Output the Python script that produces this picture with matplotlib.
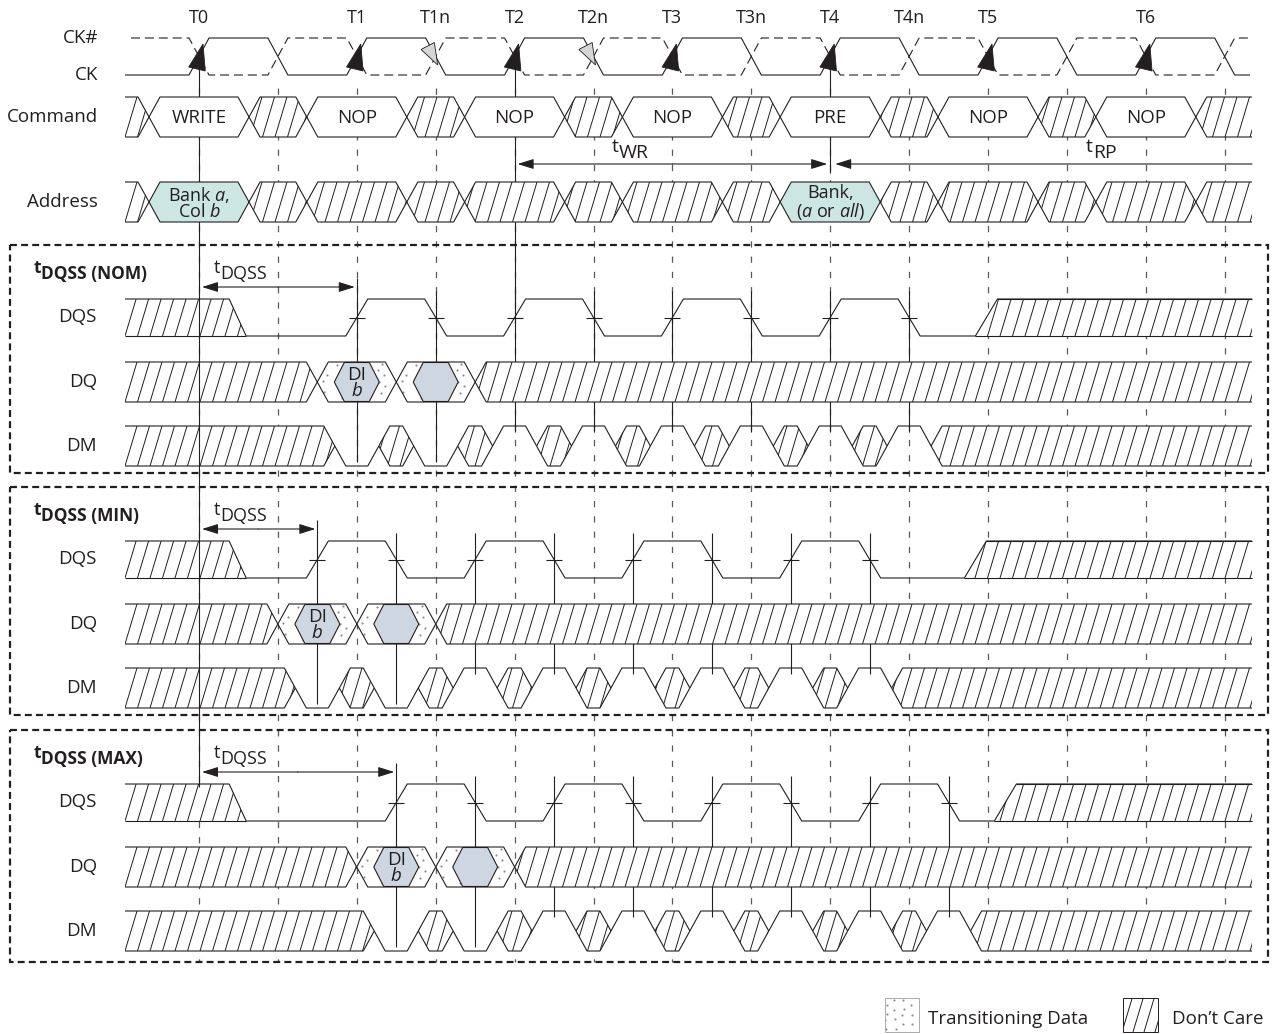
# coding: utf-8
import matplotlib.pyplot as plt
import numpy as np
from matplotlib.patches import Polygon, Rectangle
from matplotlib.collections import LineCollection

plt.rcParams['font.family'] = ['Open Sans', 'DejaVu Sans']
plt.rcParams['mathtext.fontset'] = 'custom'
plt.rcParams['mathtext.rm'] = 'Open Sans'
plt.rcParams['mathtext.it'] = 'Open Sans:italic'
plt.rcParams['mathtext.bf'] = 'Open Sans:bold'
plt.rcParams['lines.scale_dashes'] = False

# ---- diagram data (times in tCK, T0 = 0) ----
clock_names = ["T0", "T1", "T1n", "T2", "T2n", "T3", "T3n", "T4", "T4n", "T5", "T6"]
clock_times = [0, 1, 1.5, 2, 2.5, 3, 3.5, 4, 4.5, 5, 6]
black_arrows = [0, 1, 2, 3, 4, 5, 6]
gray_arrows = [1.5, 2.5]

commands = ["WRITE", "NOP", "NOP", "NOP", "PRE", "NOP", "NOP"]
addresses = ["Bank $a$,\nCol $b$", None, None, None, "Bank,\n($a$ or $all$)", None, None]

sections = ["NOM", "MIN", "MAX"]
dqss_shift = [0.0, -0.25, 0.25]
dqs_edges = [1, 1.5, 2, 2.5, 3, 3.5, 4, 4.5]
dm_levels = ["L", "L", "H", "H", "H", "H", "H", "H"]
dq_data = ["DI\n$b$", ""]
dqs_pre_end = 0.245
dqs_post_start = [4.99, 4.92, 5.11]
twr_span = [2, 4]
trp_start = 4

# ---- layout ----
W, H = 1274, 1034
X0, TCK = 199.0, 157.8
PX = 1.0 / TCK
INK = "#231f20"
GRID = "#58595b"
TEAL = "#cce6e4"
BLUE = "#cdd6e1"
DOT = "#8a8c8f"
FS = 13.5

fig = plt.figure(figsize=(W / 100, H / 100), dpi=100)
ax = fig.add_axes([0, 0, 1, 1])
ax.set_xlim(-X0 * PX, (W - X0) * PX)
ax.set_ylim(H, 0)
ax.axis("off")


def t_px(px):
    return (px - X0) * PX


LEFT = t_px(125)
RIGHT = t_px(1252)
LW = 0.8


def line(xs, ys, z=4, **kw):
    kw.setdefault("color", INK)
    kw.setdefault("lw", LW)
    ax.plot(xs, ys, zorder=z, solid_joinstyle="miter", solid_capstyle="butt", **kw)


def hatch_fill(verts, z=3, spacing=12.5, slope=0.3):
    poly = Polygon(verts, closed=True, facecolor="white", edgecolor="none", zorder=z)
    ax.add_patch(poly)
    xs = [X0 + v[0] * TCK for v in verts]
    ys = [v[1] for v in verts]
    ytop, ybot = min(ys), max(ys)
    h = ybot - ytop
    segs = []
    for k in range(int(min(xs) // spacing) - 6, int(max(xs) // spacing) + 2):
        xa = k * spacing
        segs.append([(t_px(xa), ybot), (t_px(xa + slope * h), ytop)])
    lc = LineCollection(segs, colors=INK, linewidths=0.7, zorder=z + 0.1)
    lc.set_clip_path(poly)
    ax.add_collection(lc)


def dot_fill(verts, z=3, color="white", step=11.0):
    poly = Polygon(verts, closed=True, facecolor=color, edgecolor="none", zorder=z)
    ax.add_patch(poly)
    xs = [X0 + v[0] * TCK for v in verts]
    ys = [v[1] for v in verts]
    x0, x1, y0, y1 = min(xs), max(xs), min(ys), max(ys)
    n = int((x1 - x0) * (y1 - y0) / step ** 2) + 1
    g = 1.32471795724474602596
    i = np.arange(n)
    u = (0.5 + i / g) % 1
    v = (0.5 + i / g ** 2) % 1
    sc = ax.scatter(t_px(x0 + u * (x1 - x0)), y0 + v * (y1 - y0), s=2.4,
                    color=DOT, linewidths=0, zorder=z + 0.1)
    sc.set_clip_path(poly)


def bus_seg(xa, xb, y0, y1, kind, w=11 * PX, open_l=False, open_r=False,
            label=None, z=3, fs=FS):
    ym = (y0 + y1) / 2
    if open_l:
        lt, lb = [(xa, y0)], [(xa, y1)]
    else:
        lt, lb = [(xa, ym), (xa + w, y0)], [(xa, ym), (xa + w, y1)]
    if open_r:
        rt, rb = [(xb, y0)], [(xb, y1)]
    else:
        rt, rb = [(xb - w, y0), (xb, ym)], [(xb - w, y1), (xb, ym)]
    top, bot = lt + rt, lb + rb
    verts = top + bot[::-1]
    if kind == "X":
        hatch_fill(verts, z)
    elif kind == "T":
        dot_fill(verts, z)
    else:
        fc = {"V": "white", "A": TEAL, "D": BLUE}[kind]
        ax.add_patch(Polygon(verts, closed=True, facecolor=fc, edgecolor="none", zorder=z))
    line([p[0] for p in top], [p[1] for p in top], z + 0.2)
    line([p[0] for p in bot], [p[1] for p in bot], z + 0.2)
    if label:
        ax.text((xa + xb) / 2, ym + 1, label, ha="center", va="center",
                fontsize=fs, color=INK, zorder=z + 0.3, linespacing=0.9)


def sub_text(x, y, main, sub, fs=13, weight="normal", dx=6.5):
    ax.text(x, y - 6, main, fontsize=fs, weight=weight, color=INK, va="baseline", zorder=10)
    ax.text(x + dx * PX, y, sub, fontsize=fs, weight=weight, color=INK, va="baseline", zorder=10)


def tri(tip, base, half, fc, z=6):
    d = np.array(tip) - np.array(base)
    d = d / np.hypot(*d)
    n = np.array([-d[1], d[0]])
    b1 = np.array(base) + half * n
    b2 = np.array(base) - half * n
    pts = [tip, tuple(b1), tuple(b2)]
    ax.add_patch(Polygon([(t_px(p[0]), p[1]) for p in pts], closed=True,
                         facecolor=fc, edgecolor=INK, lw=0.6, zorder=z))


# ---- grid of dashed lines at every half clock ----
for t in np.arange(0, 6.51, 0.5):
    ax.plot([t, t], [88, 962], color=GRID, lw=0.9, ls=(0, (4.5, 6.5)), zorder=1)

# ---- clock ----
CK_HI, CK_LO = 38, 75
w = 10 * PX
ck_x, ck_y = [LEFT], [CK_LO]
nck_x, nck_y = [t_px(131)], [CK_HI]
for t in np.arange(0, 6.51, 0.5):
    rising = (t % 1) == 0
    a, b = (CK_LO, CK_HI) if rising else (CK_HI, CK_LO)
    ck_x += [t - w, t + w]
    ck_y += [a, b]
    nck_x += [t - w, t + w]
    nck_y += [b, a]
ck_x.append(t_px(1250))
ck_y.append(ck_y[-1])
nck_x.append(t_px(1250))
nck_y.append(nck_y[-1])
line(ck_x, ck_y, 4)
ax.plot(nck_x, nck_y, color=INK, lw=LW, ls=(0, (6.5, 3.5)), zorder=4)

for t in black_arrows:
    x = X0 + t * TCK
    tri((x + 4, 44), (x - 2, 69), 8.5, INK)
for t in gray_arrows:
    x = X0 + t * TCK
    tri((x + 2, 65), (x - 8, 46), 7.5, "#d4d5d6")

# long clock lines from T0, T2, T4
line([0, 0], [68, 245], 1)
line([0, 0], [245, 787], 12)
line([2, 2], [68, 300], 1)
line([4, 4], [68, 173], 1)

for name, t in zip(clock_names, clock_times):
    ax.text(t, 18, name, ha="center", va="center", fontsize=13, color=INK)

LBL_X = t_px(98)
for name, y in [("CK#", 38), ("CK", 75), ("Command", 117), ("Address", 202)]:
    ax.text(LBL_X, y, name, ha="right", va="center", fontsize=FS, color=INK)

# ---- command and address buses ----
HALF = 50 * PX
for row, (y0, y1) in enumerate([(97, 137), (182, 222)]):
    cr = []
    for t in range(len(commands)):
        cr += [t - HALF, t + HALF]
    bus_seg(LEFT, cr[0], y0, y1, "X", open_l=True)
    for t in range(len(commands)):
        a, b = cr[2 * t], cr[2 * t + 1]
        if row == 0:
            bus_seg(a, b, y0, y1, "V", label=commands[t])
        else:
            lab = addresses[t]
            bus_seg(a, b, y0, y1, "A" if lab else "X", label=lab, fs=13)
        nxt = cr[2 * t + 2] if t + 1 < len(commands) else RIGHT
        bus_seg(b, nxt, y0, y1, "X", open_r=(t + 1 == len(commands)))

# ---- tWR / tRP ----
ARW = dict(arrowstyle="-|>,head_length=0.7,head_width=0.22", mutation_scale=14,
           color=INK, lw=LW, shrinkA=0, shrinkB=0)
ax.annotate("", xy=(twr_span[0] + 3 * PX, 164), xytext=(np.mean(twr_span), 164), arrowprops=ARW)
ax.annotate("", xy=(twr_span[1] - 3 * PX, 164), xytext=(np.mean(twr_span), 164), arrowprops=ARW)
ax.annotate("", xy=(trp_start + 5 * PX, 164), xytext=(RIGHT, 164), arrowprops=ARW)
sub_text(t_px(612), 158, "t", "WR", fs=14, dx=7)
sub_text(t_px(1086), 158, "t", "RP", fs=14, dx=7)

# ---- three DQSS cases ----
for i, (sec, d) in enumerate(zip(sections, dqss_shift)):
    s = [0, 242, 485][i]
    top, bot = 245 + s, 473 + s + (4 if i == 2 else 0)
    ax.add_patch(Rectangle((t_px(10), top), (1258) * PX, bot - top, fill=False,
                           edgecolor=INK, lw=1.6, ls=(0, (5, 3)), zorder=13))
    sub_text(t_px(34), 279 + s, "t", "DQSS (%s)" % sec, fs=12.5, weight="bold", dx=7.5)
    sub_text(t_px(214), 279 + s, "t", "DQSS", fs=13, dx=6.5)
    for name, y in [("DQS", 317), ("DQ", 382), ("DM", 446)]:
        ax.text(t_px(97), y + s, name, ha="right", va="center", fontsize=FS, color=INK)

    edges = [e + d for e in dqs_edges]
    ay = 287 + s
    ax.annotate("", xy=(3 * PX, ay), xytext=((edges[0]) / 2, ay), arrowprops=ARW)
    ax.annotate("", xy=(edges[0] - 2 * PX, ay), xytext=(edges[0] / 2, ay), arrowprops=ARW)

    # DQS
    hi, lo = 299 + s, 336 + s
    wp = 8.5 * PX
    hatch_fill([(LEFT, hi), (dqs_pre_end - wp, hi), (dqs_pre_end + wp, lo), (LEFT, lo)], 3)
    line([LEFT, dqs_pre_end - wp, dqs_pre_end + wp], [hi, hi, lo], 3.2)
    line([LEFT, dqs_pre_end + wp], [lo, lo], 3.2)
    we = 11 * PX
    xs, ys = [dqs_pre_end + wp], [lo]
    level = lo
    for e in edges:
        new = hi if level == lo else lo
        xs += [e - we, e + we]
        ys += [level, new]
        level = new
    post = dqs_post_start[i]
    xs += [post - we, post + we, RIGHT]
    ys += [lo, hi, hi]
    line(xs, ys, 4)
    hatch_fill([(post - we, lo), (post + we, hi), (RIGHT, hi), (RIGHT, lo)], 3)
    line([post - we, RIGHT], [lo, lo], 3.2)
    line([post + we, RIGHT], [hi, hi], 3.2)

    # DM
    mhi, mlo = 426 + s, 466 + s
    mm = (mhi + mlo) / 2
    g = 22 * PX
    bus_seg(LEFT, edges[0] - g, mhi, mlo, "X", open_l=True)
    for k, e in enumerate(edges):
        lv = mhi if dm_levels[k] == "H" else mlo
        a, b = e - g, e + g
        line([a, a + we, b - we, b], [mm, lv, lv, mm], 4)
        if k + 1 < len(edges):
            bus_seg(b, edges[k + 1] - g, mhi, mlo, "X")
        else:
            bus_seg(b, RIGHT, mhi, mlo, "X", open_r=True)

    # edge marker lines
    for k, e in enumerate(edges):
        y_start = ay - 9 if k == 0 else hi - 8
        y_end = mhi + 6 if dm_levels[k] == "H" else mlo - 4
        line([e, e], [y_start, y_end], 2)
        line([e - 8 * PX, e + 8 * PX], [(hi + lo) / 2] * 2, 5)

    # DQ
    qy0, qy1 = 362 + s, 402 + s
    hw = 39.5 * PX
    c0, c1, c2 = edges[0] - hw, edges[0] + hw, edges[1] + hw
    bus_seg(LEFT, c0, qy0, qy1, "X", open_l=True, z=8)
    bus_seg(c0, c1, qy0, qy1, "T", z=8)
    bus_seg(c1, c2, qy0, qy1, "T", z=8)
    bus_seg(c2, RIGHT, qy0, qy1, "X", open_r=True, z=8)
    for e, lab in zip(edges[:2], dq_data):
        bus_seg(e - 22.5 * PX, e + 22.5 * PX, qy0 + 0.5, qy1 - 0.5, "D", w=10 * PX,
                label=lab, z=9, fs=13.5)

# ---- legend ----
dot_fill([(t_px(885), 998), (t_px(919), 998), (t_px(919), 1032), (t_px(885), 1032)], 3, step=9)
ax.add_patch(Rectangle((t_px(885), 998), 34 * PX, 34, fill=False, edgecolor="#9d9fa2",
                       lw=0.6, zorder=4))
ax.text(t_px(928), 1019, "Transitioning Data", va="center", fontsize=13.5, color=INK)
hatch_fill([(t_px(1123), 998), (t_px(1158), 998), (t_px(1158), 1032), (t_px(1123), 1032)], 3,
           spacing=11, slope=0.3)
ax.add_patch(Rectangle((t_px(1123), 998), 35 * PX, 34, fill=False, edgecolor=INK,
                       lw=0.7, zorder=4))
ax.text(t_px(1172), 1019, "Don\u2019t Care", va="center", fontsize=13.5, color=INK)

plt.savefig("out.png", dpi=100)
